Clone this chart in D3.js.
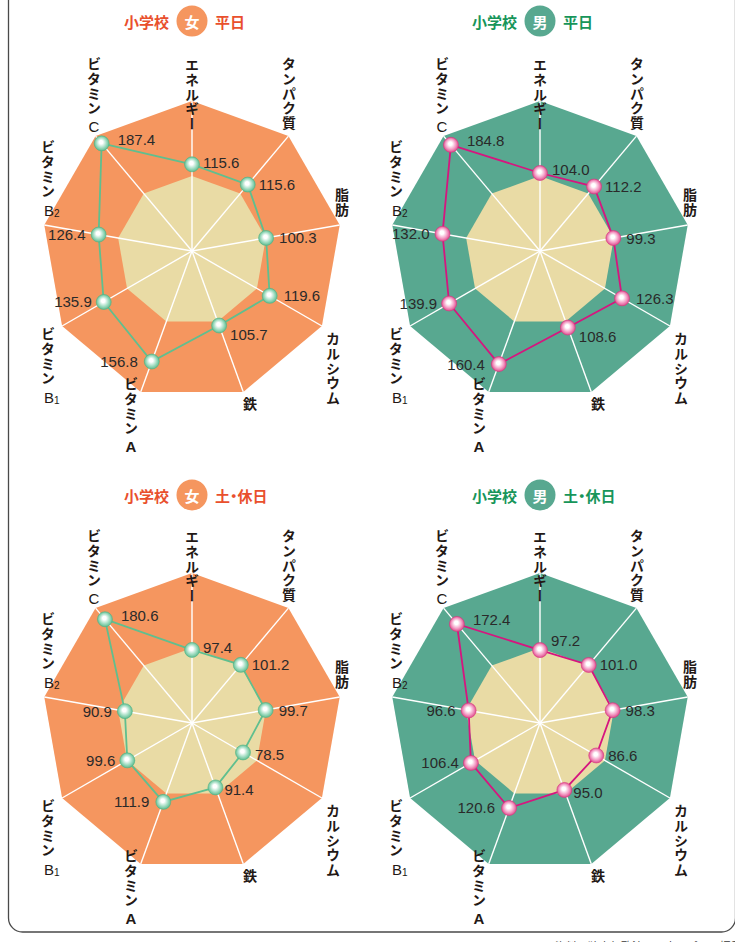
<!DOCTYPE html>
<html>
<head>
<meta charset="utf-8">
<script src="https://cdn.jsdelivr.net/npm/d3@7"></script>
<style>
  body { margin: 0; background: #ffffff; }
  svg { display: block; }
  .vert { writing-mode: vertical-rl; text-orientation: upright; }
  .halfpunct { font-feature-settings: "halt" 1; }
</style>
</head>
<body>
<svg id="chart" width="735" height="942"></svg>
<script>
// Nutrient axes, clockwise from the top
const axes = ["エネルギー", "タンパク質", "脂肪", "カルシウム", "鉄", "ビタミンA", "ビタミンB1", "ビタミンB2", "ビタミンC"];

// Intake as % of the reference value, one series per panel (same order as axes)
const girlsWeekday = [115.6, 115.6, 100.3, 119.6, 105.7, 156.8, 135.9, 126.4, 187.4];
const boysWeekday  = [104.0, 112.2, 99.3, 126.3, 108.6, 160.4, 139.9, 132.0, 184.8];
const girlsHoliday = [97.4, 101.2, 99.7, 78.5, 91.4, 111.9, 99.6, 90.9, 180.6];
const boysHoliday  = [97.2, 101.0, 98.3, 86.6, 95.0, 120.6, 106.4, 96.6, 172.4];

// Radial extent of the outer ring and the inner (reference = 100%) ring
const scaleMax = 200;
const referenceLevel = 100;

// Panel titles
const schoolLabel = "小学校";
const sexLabels = ["女", "男"];
const dayLabels = ["平日", "土・休日"];

const footnote = "資料：独立行政法人日本スポーツ振興センター調査";

// ---------------------------------------------------------------------------
const svg = d3.select("#chart");
const R = 150;
const r = d3.scaleLinear().domain([0, scaleMax]).range([0, R]);
const angle = i => (i * 2 * Math.PI) / axes.length;
const px = (i, v) => Math.sin(angle(i)) * r(v);
const py = (i, v) => -Math.cos(angle(i)) * r(v);

const themes = {
  "女": { ring: "#f5965f", title: "#e9502d", badge: "#f5965f", line: "#5fbf8f",
          dotEdge: "#4fb384", dotMid: "#9fdcc0", grad: "gradGirl" },
  "男": { ring: "#58a890", title: "#17955a", badge: "#58a890", line: "#d6157f",
          dotEdge: "#d9367f", dotMid: "#f39cc4", grad: "gradBoy" }
};
const innerFill = "#e9dba5";

// Sphere-like marker gradients
const defs = svg.append("defs");
Object.values(themes).forEach(t => {
  const g = defs.append("radialGradient").attr("id", t.grad)
    .attr("cx", "50%").attr("cy", "50%").attr("r", "55%").attr("fx", "45%").attr("fy", "40%");
  g.append("stop").attr("offset", "0%").attr("stop-color", "#ffffff");
  g.append("stop").attr("offset", "22%").attr("stop-color", "#ffffff");
  g.append("stop").attr("offset", "62%").attr("stop-color", t.dotMid);
  g.append("stop").attr("offset", "100%").attr("stop-color", t.dotEdge);
});

// Where each axis title sits, relative to the panel centre
const labelLayout = [
  { dx: 0,    top: -193 },
  { dx: 97,   top: -194 },
  { dx: 150,  top: -63 },
  { dx: 141,  top: 81 },
  { dx: 58,   top: 146 },
  { dx: -61,  top: 126 },
  { dx: -144, top: 76 },
  { dx: -144, top: -111 },
  { dx: -98,  top: -194 }
];
// Default placement of the value labels next to each marker
const valueLayout = [
  { dx: 11, dy: -2, anchor: "start" },
  { dx: 11, dy: 0, anchor: "start" },
  { dx: 13, dy: 0, anchor: "start" },
  { dx: 14, dy: 0, anchor: "start" },
  { dx: 11, dy: 9, anchor: "start" },
  { dx: -14, dy: 0, anchor: "end" },
  { dx: -12, dy: 0, anchor: "end" },
  { dx: -13, dy: 0, anchor: "end" },
  { dx: 16, dy: -4, anchor: "start" }
];

const panels = [
  { cx: 192, cy: 251, ty: 21,  sex: 0, day: 0, values: girlsWeekday, nudge: {} },
  { cx: 540, cy: 251, ty: 21,  sex: 1, day: 0, values: boysWeekday,  nudge: { 0: [1, -2] } },
  { cx: 192, cy: 723, ty: 495, sex: 0, day: 1, values: girlsHoliday, nudge: { 4: [-2, -7], 3: [-2, 2] } },
  { cx: 540, cy: 723, ty: 495, sex: 1, day: 1, values: boysHoliday,  nudge: { 0: [0, -8], 4: [-2, -6], 3: [-2, 0] } }
];

const fs = 14;
const spacing = 0.6;
const jpFont = "'Noto Sans CJK JP', 'Noto Sans', sans-serif";
const numFont = "'Liberation Sans', Arial, sans-serif";

// Vertical (top-to-bottom) Japanese label; returns the y where it ends
function verticalText(g, str, x, top) {
  g.append("text")
    .attr("class", "vert")
    .attr("x", x).attr("y", top)
    .attr("font-family", jpFont)
    .attr("font-weight", 700)
    .attr("font-size", fs)
    .attr("letter-spacing", spacing)
    .attr("fill", "#231815")
    .text(str);
  return top + (fs + spacing) * Array.from(str).length;
}

panels.forEach(p => {
  const sex = sexLabels[p.sex];
  const th = themes[sex];
  const g = svg.append("g").attr("transform", `translate(${p.cx},${p.cy})`);

  const ring = v => axes.map((_, i) => [px(i, v), py(i, v)]);
  const line = d3.line().curve(d3.curveLinearClosed);

  // outer ring and reference ring
  g.append("path").attr("d", line(ring(scaleMax))).attr("fill", th.ring);
  g.append("path").attr("d", line(ring(referenceLevel))).attr("fill", innerFill);

  // spokes
  g.selectAll("line.spoke").data(axes).join("line")
    .attr("class", "spoke")
    .attr("x1", 0).attr("y1", 0)
    .attr("x2", (_, i) => px(i, scaleMax)).attr("y2", (_, i) => py(i, scaleMax))
    .attr("stroke", "#ffffff").attr("stroke-width", 1.4);

  // data polygon
  const pts = p.values.map((v, i) => [px(i, v), py(i, v)]);
  g.append("path").attr("d", line(pts))
    .attr("fill", "none").attr("stroke", th.line).attr("stroke-width", 1.8);

  // markers
  g.selectAll("circle.dot").data(p.values).join("circle")
    .attr("class", "dot")
    .attr("cx", (v, i) => px(i, v)).attr("cy", (v, i) => py(i, v))
    .attr("r", 7.5)
    .attr("fill", `url(#${th.grad})`)
    .attr("stroke", th.dotEdge).attr("stroke-width", 0.6);

  // value labels
  g.selectAll("text.val").data(p.values).join("text")
    .attr("class", "val")
    .attr("x", (v, i) => px(i, v) + valueLayout[i].dx + (p.nudge[i] ? p.nudge[i][0] : 0))
    .attr("y", (v, i) => py(i, v) + valueLayout[i].dy + (p.nudge[i] ? p.nudge[i][1] : 0))
    .attr("text-anchor", (v, i) => valueLayout[i].anchor)
    .attr("dominant-baseline", "central")
    .attr("font-family", numFont)
    .attr("font-size", 15)
    .attr("fill", "#2a2a2a")
    .text(v => v.toFixed(1));

  // axis titles (vertical)
  axes.forEach((name, i) => {
    const L = labelLayout[i];
    if (name.startsWith("ビタミン")) {
      const suffix = name.slice(4);
      const end = verticalText(g, "ビタミン", L.dx, L.top);
      if (suffix.length === 1) {
        g.append("text")
          .attr("x", L.dx).attr("y", end + 11)
          .attr("text-anchor", "middle").attr("dominant-baseline", "central")
          .attr("font-family", numFont).attr("font-size", 15)
          .attr("font-weight", suffix === "A" ? 700 : 400)
          .attr("fill", "#231815")
          .text(suffix);
      } else {
        const t = g.append("text")
          .attr("x", L.dx - 4).attr("y", end + 12)
          .attr("dominant-baseline", "central")
          .attr("font-family", numFont).attr("font-size", 15)
          .attr("fill", "#231815");
        t.append("tspan").text(suffix[0]);
        t.append("tspan").attr("font-size", 10).attr("dy", 3).text(suffix.slice(1));
      }
    } else {
      verticalText(g, name, L.dx, L.top);
    }
  });

  // title: 小学校 (badge) day
  const tg = svg.append("g").attr("transform", `translate(${p.cx},${p.ty})`);
  tg.append("circle").attr("cx", 0).attr("cy", 0).attr("r", 15.5).attr("fill", th.badge);
  tg.append("text").attr("x", 0).attr("y", 0)
    .attr("text-anchor", "middle").attr("dominant-baseline", "central")
    .attr("font-family", jpFont).attr("font-weight", 700).attr("font-size", 15)
    .attr("fill", "#ffffff").text(sex);
  tg.append("text").attr("x", -23).attr("y", 0)
    .attr("text-anchor", "end").attr("dominant-baseline", "central")
    .attr("font-family", jpFont).attr("font-weight", 700).attr("font-size", 15)
    .attr("fill", th.title).text(schoolLabel);
  // half-width punctuation keeps "土・休日" compact
  tg.append("text").attr("x", 23).attr("y", 0)
    .attr("class", "halfpunct")
    .attr("text-anchor", "start").attr("dominant-baseline", "central")
    .attr("font-family", jpFont).attr("font-weight", 700).attr("font-size", 15)
    .attr("fill", th.title)
    .text(dayLabels[p.day]);
});

// surrounding frame
svg.append("rect")
  .attr("x", 8.5).attr("y", -30).attr("width", 727).attr("height", 962)
  .attr("rx", 14).attr("ry", 14)
  .attr("fill", "none").attr("stroke", "#4a4a4a").attr("stroke-width", 1.3);

svg.append("text")
  .attr("x", 555).attr("y", 951)
  .attr("font-family", jpFont).attr("font-size", 11)
  .attr("fill", "#3a3a3a")
  .text(footnote);
</script>
</body>
</html>
